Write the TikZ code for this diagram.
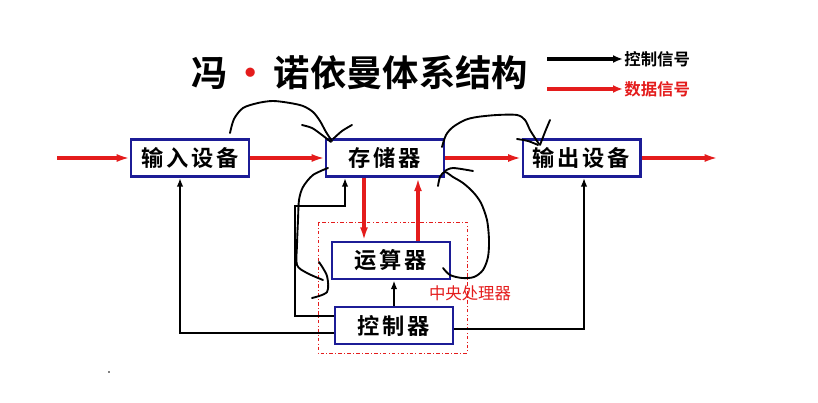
\documentclass[tikz,border=0pt]{standalone}
\usepackage{fontspec}
\setmainfont{Noto Sans CJK SC}[BoldFont={Noto Sans CJK SC Bold}]
\usetikzlibrary{arrows.meta, calc}
\definecolor{merahdata}{RGB}{228,28,28}
\definecolor{birukotak}{RGB}{28,28,150}

\begin{document}
\begin{tikzpicture}[x=0.03cm, y=-0.03cm,
    kotak/.style={draw=birukotak, line width=2pt, fill=white, minimum width=3.53cm,
      minimum height=1.12cm, inner sep=0pt,
      font=\fontsize{19}{21}\selectfont\bfseries\addfontfeature{LetterSpace=12}},
    aliran/.style={merahdata, line width=2.6pt, -{Latex[length=4mm,width=2.4mm]}},
    kendali/.style={black, line width=1.8pt, -{Latex[length=2.6mm,width=1.9mm]}},
    coretan/.style={black, line width=1.6pt, line cap=round, line join=round}]
                \useasboundingbox (0,0) rectangle (818,403);
                % judul dan keterangan
                \node[anchor=west, font=\fontsize{31}{34}\selectfont\bfseries] (judul) at (187,73)
                    {冯\hspace{0.15cm}\textcolor{merahdata}{・}\hspace{0.15cm}诺依曼体系结构};
                \node[anchor=west, inner sep=1pt, font=\fontsize{14}{15}\selectfont\bfseries] (ketkendali) at (623,59) {控制信号};
                \node[anchor=west, inner sep=1pt, merahdata, font=\fontsize{14}{15}\selectfont\bfseries] (ketdata) at (623,89) {数据信号};
                \coordinate (kk) at (547,59);
                \coordinate (kd) at (547,89);
                \draw[line width=2.8pt, -{Latex[length=3mm,width=2.4mm]}] (kk) -- (ketkendali.west);
                \draw[merahdata, line width=2.8pt, -{Latex[length=3mm,width=2.4mm]}] (kd) -- (ketdata.west);
                % CPU
                \draw[merahdata, line width=0.6pt, dash dot] (318,222) rectangle (467,353);
                \node[merahdata, font=\fontsize{14}{15}\selectfont] (cpu) at (470,293) {中央处理器};
                % kotak
                \node[kotak] (masuk) at (190,158) {输入设备};
                \node[kotak] (simpan) at (385,158) {存储器};
                \node[kotak] (keluar) at (581.5,158) {输出设备};
                \node[kotak] (hitung) at (391,260.5) {运算器};
                \node[kotak] (atur) at (394,325.5) {控制器};
                % aliran data
                \coordinate (awal) at (57,158);
                \coordinate (akhir) at (718,158);
                \draw[aliran] (awal) -- (masuk.west);
                \draw[aliran] (masuk.east) -- (simpan.west);
                \draw[aliran] (simpan.east) -- (keluar.west);
                \draw[aliran] (keluar.east) -- (akhir);
                \draw[aliran] ($(simpan.south)+(-21,0)$) -- ($(hitung.north)+(-27,0)$);
                \draw[aliran] ($(hitung.north)+(27,0)$) -- ($(simpan.south)+(33,0)$);
                % sinyal kendali
                \draw[kendali] (atur.north) -- (atur.north |- hitung.south);
                \draw[kendali] ($(atur.west)+(0,-9.5)$) -| (295,206) -| ($(simpan.south)+(-40,0)$);
                \draw[kendali] ($(atur.west)+(0,7.5)$) -| ($(masuk.south)+(-10,0)$);
                \draw[kendali] ($(atur.east)+(0,3.5)$) -| ($(keluar.south)+(2.5,0)$);
                % coretan tangan
                \draw[coretan] plot[smooth] coordinates {(230,133) (234,119) (243,108) (258,103) (273,101)
                    (290,103) (303,106) (313,112) (320,121) (326,132) (332,141)};
                \draw[coretan] plot[smooth] coordinates {(302,125) (312,128) (322,135) (331,142)};
                \draw[coretan] plot[smooth] coordinates {(352,125) (342,131) (333,139)};
                \draw[coretan] plot[smooth] coordinates {(442,147) (446,135) (453,127) (465,120) (477,117)
                    (497,115) (517,115) (525,120) (530,130) (535,138) (539,144)};
                \draw[coretan] plot[smooth] coordinates {(517,139) (528,141) (538,145)};
                \draw[coretan] plot[smooth] coordinates {(550,120) (545,132) (540,145)};
                \draw[coretan] plot[smooth] coordinates {(328,168) (313,175) (303,187) (299,200) (298,220)
                    (297,245) (297,265) (307,273) (323,280)};
                \draw[coretan] plot[smooth] coordinates {(319,262) (327,276) (327,292) (312,298)};
                \draw[coretan] plot[smooth] coordinates {(443,268) (450,275) (462,278) (474,277) (483,270)
                    (488,257) (489,240) (487,220) (481,203) (473,192) (463,183) (453,177) (445,172) (440,177) (438,186)};
                \draw[coretan] plot[smooth] coordinates {(445,171) (453,168) (473,171)};
                \fill (109,372) circle[radius=0.7pt];
            \end{tikzpicture}
\end{document}
